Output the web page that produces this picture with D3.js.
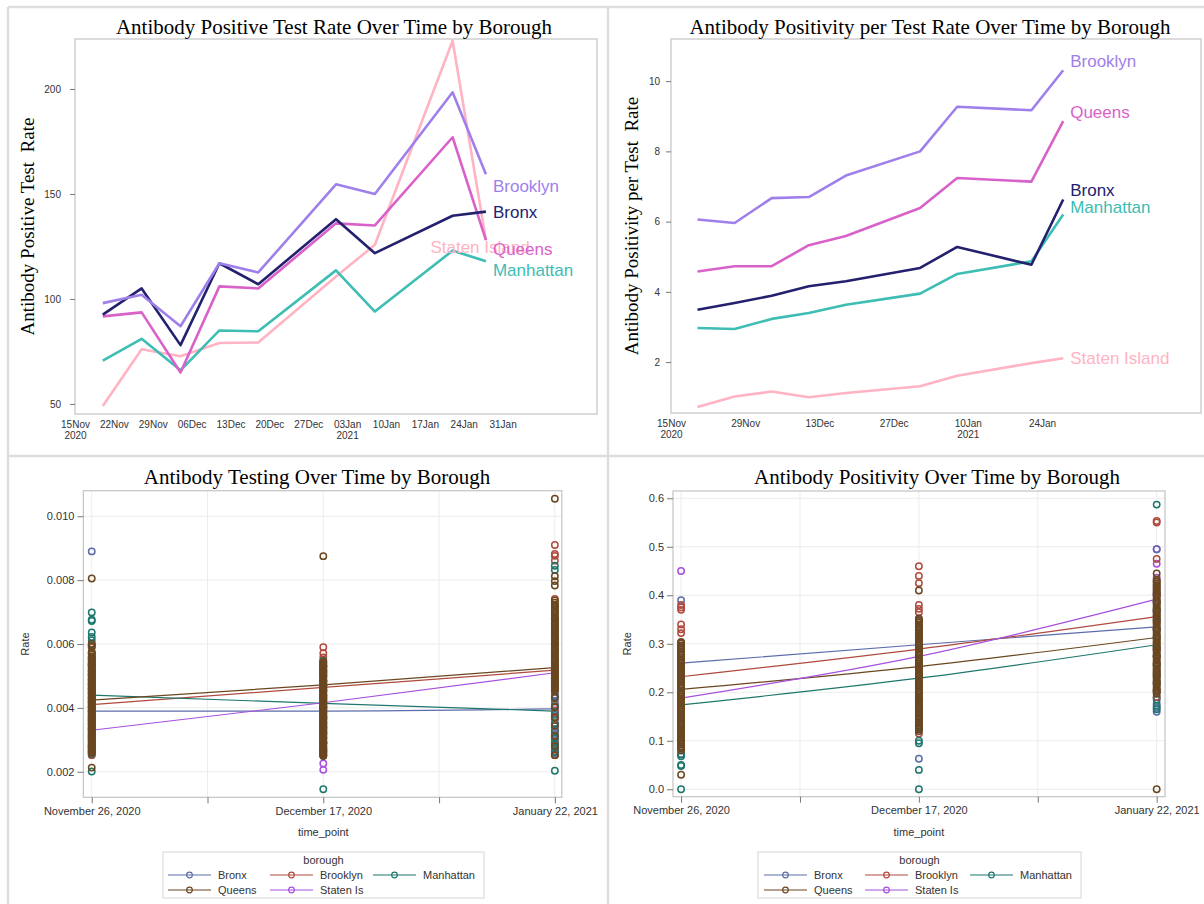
<!DOCTYPE html>
<html>
<head>
<meta charset="utf-8">
<script src="https://cdn.jsdelivr.net/npm/d3@7"></script>
<style>
body{margin:0;background:#fff}
text{font-family:"Liberation Sans",Arial,sans-serif;fill:#333}
.serif{font-family:"Liberation Serif","Times New Roman",serif;fill:#000;white-space:pre}
</style>
</head>
<body>
<svg id="chart" width="1204" height="904"></svg>
<script>
// ---------- data ----------
const boroughs = ["Bronx", "Brooklyn", "Manhattan", "Queens", "Staten Island"];
const legendNames = ["Bronx", "Brooklyn", "Manhattan", "Queens", "Staten Is"];
const weekDates = ["2020-11-20","2020-11-27","2020-12-04","2020-12-11","2020-12-18",
                   "2021-01-01","2021-01-08","2021-01-22","2021-01-28"];

// top left: positive test rate
const posRateBronx     = [92.5, 105, 78, 117, 107, 138, 121.8, 139.6, 141.6];
const posRateBrooklyn  = [98, 102, 87, 117, 112.6, 154.6, 150, 198.4, 159.4];
const posRateManhattan = [70.6, 81, 66, 85, 84.6, 113.6, 94, 123, 118];
const posRateQueens    = [91.7, 93.6, 65, 106, 105, 136, 135, 177, 128];
const posRateStaten    = [49, 76, 72.7, 79, 79.3, 110.7, 125.8, 223, 128];
const posRateTicks = [50, 100, 150, 200];
const posRateDateTicks = ["2020-11-15","2020-11-22","2020-11-29","2020-12-06","2020-12-13","2020-12-20",
                          "2020-12-27","2021-01-03","2021-01-10","2021-01-17","2021-01-24","2021-01-31"];
const posRateLabelAt = [141.4, 153.8, 113.8, 123.8, 124.8];

// top right: positivity per test rate
const perTestBronx     = [3.49, 3.68, 3.89, 4.16, 4.30, 4.68, 5.28, 4.77, 6.63];
const perTestBrooklyn  = [6.06, 5.96, 6.67, 6.70, 7.31, 8.0, 9.27, 9.17, 10.31];
const perTestManhattan = [2.97, 2.94, 3.23, 3.40, 3.63, 3.95, 4.51, 4.87, 6.2];
const perTestQueens    = [4.58, 4.73, 4.73, 5.33, 5.59, 6.39, 7.24, 7.14, 8.86];
const perTestStaten    = [0.72, 1.02, 1.16, 1.0, 1.12, 1.31, 1.61, 1.97, 2.11];
const perTestTicks = [2, 4, 6, 8, 10];
const perTestDateTicks = ["2020-11-15","2020-11-29","2020-12-13","2020-12-27","2021-01-10","2021-01-24"];
const perTestLabelAt = [6.9, 10.58, 6.42, 9.12, 2.12];

// bottom: time points
const timePoints = [1, 2, 3];
const timeLabels = ["November 26, 2020", "December 17, 2020", "January 22, 2021"];

// bottom left: testing rate per zip (units of 1e-5)
const testBronx = [
  [890, 262, 274, 288, 301, 317, 330, 346, 359, 372, 388, 401, 414, 428, 441, 457, 470, 486, 502, 519, 536, 553],
  [253, 271, 290, 306, 322, 339, 354, 371, 388, 403, 419, 436, 452, 469, 485, 502, 518, 531],
  [258, 272, 289, 303, 318, 334, 350, 367, 384, 401, 420, 441, 465, 492, 520, 551]
];
const testBrooklyn = [
  [252, 268, 281, 296, 309, 323, 338, 351, 364, 379, 392, 405, 419, 433, 446, 461, 474, 489, 503, 516, 531, 544, 558, 573, 589, 597],
  [590, 571, 558, 262, 277, 292, 308, 322, 337, 351, 366, 381, 396, 410, 425, 440, 455, 469, 484, 499, 514, 528, 543],
  [910, 882, 876, 861, 252, 264, 279, 293, 311, 328, 347, 366, 388, 410, 433, 456, 479, 503, 527, 551, 576, 601, 627, 652, 679, 702, 723, 741]
];
const testManhattan = [
  [201, 256, 279, 305, 333, 362, 391, 420, 449, 478, 507, 536, 571, 598, 612, 622, 636, 672, 676, 699],
  [145, 251, 268, 290, 318, 343, 372, 401, 430, 457, 483, 509, 532, 548],
  [203, 845, 832, 262, 275, 288, 305, 327, 351, 378, 405, 434, 462, 492, 522, 553, 584, 613, 645, 680, 716]
];
const testQueens = [
  [213, 805, 259, 266, 277, 284, 293, 302, 311, 319, 328, 336, 345, 354, 362, 371, 380, 388, 397, 406, 414, 423, 432, 440, 449, 458, 466, 475, 484, 492, 501, 510, 518, 527, 536, 544, 553, 562, 575, 592, 601,
   263, 271, 281, 289, 298, 307, 315, 324, 332, 341, 350, 358, 367, 376, 384, 393, 402, 410, 419, 428, 436, 445, 453, 462, 471, 479, 488, 497, 505, 514, 523, 531, 540, 549, 558, 568],
  [875, 249, 257, 266, 275, 284, 293, 302, 311, 320, 329, 338, 347, 356, 365, 374, 383, 392, 401, 410, 419, 428, 437, 446, 455, 464, 473, 482, 491, 500, 509, 518, 527, 536, 545,
   253, 262, 270, 280, 289, 297, 306, 316, 325, 333, 342, 351, 360, 369, 378, 387, 396, 405, 414, 423, 432, 441, 450, 459, 468, 477, 486, 495, 504, 513, 522, 531, 540],
  [1055, 812, 797, 783, 252, 281, 312, 343, 371, 402, 431, 452, 462, 472, 482, 492, 502, 512, 522, 532, 542, 552, 562, 572, 582, 592, 602, 612, 622, 632, 642, 652, 662, 672, 684, 696, 709, 722, 736,
   457, 467, 477, 487, 497, 507, 517, 527, 537, 547, 557, 567, 577, 587, 597, 607, 617, 627, 637, 647, 657, 667, 678, 690, 703, 716, 729]
];
const testStaten = [
  [253, 262, 271, 284, 312, 336, 348, 371, 402, 433, 459],
  [206, 226, 263, 289, 331, 366, 402, 438, 469],
  [264, 305, 348, 392, 437, 483, 528, 574, 620, 665]
];
const testFit = [
  [0.00390, 0.00390, 0.00397],
  [0.00410, 0.00464, 0.00518],
  [0.00440, 0.00414, 0.00390],
  [0.00424, 0.00472, 0.00526],
  [0.00330, 0.00416, 0.00510]
];
const testTicks = [0.002, 0.004, 0.006, 0.008, 0.010];

// bottom right: positivity per zip (units of 1e-3)
const posBronx = [
  [390, 72, 85, 98, 112, 126, 140, 154, 168, 182, 196, 210, 224, 238, 252, 266, 280, 294],
  [63, 132, 148, 165, 182, 199, 216, 233, 250, 267, 284, 301, 318, 335, 350],
  [495, 160, 168, 177, 190, 205, 222, 240, 258, 276, 294, 312, 330, 348, 366, 384, 402, 420]
];
const posBrooklyn = [
  [380, 375, 370, 340, 330, 322, 95, 108, 121, 134, 147, 160, 173, 186, 199, 212, 225, 238, 251, 264, 277, 290, 302],
  [460, 440, 425, 380, 372, 365, 115, 138, 153, 169, 185, 201, 217, 233, 249, 265, 281, 297, 313, 329, 345],
  [550, 553, 475, 190, 204, 218, 232, 246, 260, 274, 288, 302, 316, 330, 344, 358, 372, 386, 400, 414, 428]
];
const posManhattan = [
  [0, 50, 48, 68, 72, 86, 101, 117, 133, 149, 165, 181, 197, 213, 229, 245, 262],
  [0, 40, 95, 100, 125, 130, 146, 164, 183, 202, 221, 240, 259, 278, 297, 316, 334],
  [587, 165, 172, 185, 201, 218, 236, 255, 274, 293, 312, 331, 350, 369, 388, 407]
];
const posQueens = [
  [30, 80, 88, 96, 104, 112, 120, 128, 136, 144, 152, 160, 168, 176, 184, 192, 200, 208, 216, 224, 232, 240, 248, 256, 264, 272, 280, 288, 296, 304,
   84, 92, 100, 108, 116, 124, 132, 140, 148, 156, 164, 172, 180, 188, 196, 204, 212, 220, 228, 236, 244, 252, 260, 268, 276, 284, 292, 300],
  [410, 120, 128, 136, 144, 152, 160, 168, 176, 184, 192, 200, 208, 216, 224, 232, 240, 248, 256, 264, 272, 280, 288, 296, 304, 312, 320, 328, 336, 344, 352,
   124, 132, 140, 148, 156, 164, 172, 180, 188, 196, 204, 212, 220, 228, 236, 244, 252, 260, 268, 276, 284, 292, 300, 308, 316, 324, 332, 340, 348],
  [0, 445, 432, 197, 205, 213, 221, 229, 237, 245, 253, 261, 269, 277, 285, 293, 301, 309, 317, 325, 333, 341, 349, 357, 365, 373, 381, 389, 397, 405, 413, 421, 429,
   201, 209, 217, 225, 233, 241, 249, 257, 265, 273, 281, 289, 297, 305, 313, 321, 329, 337, 345, 353, 361, 369, 377, 385, 393, 401, 409, 417, 425]
];
const posStaten = [
  [450, 107, 139, 168, 196, 222, 250],
  [171, 214, 252, 289, 322],
  [495, 465, 288, 329, 367, 402, 436]
];
const posFit = [
  [0.260, 0.298, 0.335],
  [0.232, 0.289, 0.356],
  [0.174, 0.229, 0.298],
  [0.206, 0.253, 0.313],
  [0.188, 0.274, 0.392]
];
const posTicks = [0, 0.1, 0.2, 0.3, 0.4, 0.5, 0.6];

// ---------- styles ----------
const topColors = ["#23216e", "#9f80ea", "#3dbdb3", "#d862c9", "#ffb3c3"];
const scatterColors = ["#5c6cab", "#b04a3e", "#1e776d", "#6a4720", "#a650de"];

const svg = d3.select("#chart");
const parse = d3.timeParse("%Y-%m-%d");
const dates = weekDates.map(parse);

// panel separators
svg.append("rect").attr("width", 1204).attr("height", 904).attr("fill", "#fff");
const sep = svg.append("g").attr("stroke", "#dedede").attr("stroke-width", 2.5);
sep.append("line").attr("x1", 8).attr("x2", 8).attr("y1", 7).attr("y2", 904);
sep.append("line").attr("x1", 608).attr("x2", 608).attr("y1", 7).attr("y2", 904);
sep.append("line").attr("x1", 8).attr("x2", 1204).attr("y1", 7).attr("y2", 7);
sep.append("line").attr("x1", 8).attr("x2", 1204).attr("y1", 456).attr("y2", 456);

function styleAxis(g, size) {
  g.select(".domain").remove();
  g.selectAll(".tick line").attr("stroke", "#777");
  g.selectAll(".tick text").style("font-size", size + "px").style("fill", "#333");
}

// ---------- top line panels ----------
function linePanel(o) {
  const g = svg.append("g");
  const x = d3.scaleTime().domain(o.xDomain.map(parse)).range([o.left, o.right]);
  const y = d3.scaleLinear().domain(o.yDomain).range([o.bottom, o.top]);

  g.append("rect")
    .attr("x", o.left).attr("y", o.top)
    .attr("width", o.right - o.left).attr("height", o.bottom - o.top)
    .attr("fill", "none").attr("stroke", "#cfcfcf").attr("stroke-width", 1.5);

  const ya = g.append("g").attr("transform", `translate(${o.left},0)`)
    .call(d3.axisLeft(y).tickValues(o.yTicks).tickSize(5).tickPadding(o.pad));
  styleAxis(ya, 10);

  const tickDates = o.dateTicks.map(parse);
  const xa = g.append("g").attr("transform", `translate(0,${o.bottom})`)
    .call(d3.axisBottom(x).tickValues(tickDates).tickSize(0).tickPadding(7)
      .tickFormat(d3.timeFormat("%d%b")));
  styleAxis(xa, 10);
  xa.selectAll(".tick text").each(function (d, i) {
    const t = d3.select(this);
    const lab = d3.timeFormat("%d%b")(d);
    t.text(null);
    t.append("tspan").attr("x", 0).text(lab);
    if (i === 0 || d.getFullYear() !== tickDates[i - 1].getFullYear()) {
      t.append("tspan").attr("x", 0).attr("dy", "1.1em").text(d.getFullYear());
    }
  });

  g.append("text").attr("class", "serif")
    .attr("x", (o.left + o.right) / 2 + o.titleShift).attr("y", 34)
    .attr("text-anchor", "middle").style("font-size", "21px").text(o.title);

  g.append("text").attr("class", "serif")
    .attr("transform", `translate(${o.ylabX},${(o.top + o.bottom) / 2}) rotate(-90)`)
    .attr("text-anchor", "middle").style("font-size", "19px").text(o.ylab);

  const line = d3.line().x((d, i) => x(dates[i])).y(d => y(d));
  const order = [4, 2, 3, 0, 1];
  order.forEach(k => {
    g.append("path").datum(o.series[k])
      .attr("d", line).attr("fill", "none")
      .attr("stroke", topColors[k]).attr("stroke-width", 2.6)
      .attr("stroke-linejoin", "round");
  });
  order.forEach(k => {
    const lx = o.labelDate[k] ? x(parse(o.labelDate[k])) : x(dates[dates.length - 1]) + 7;
    g.append("text")
      .attr("x", lx).attr("y", y(o.labelAt[k])).attr("dy", "0.35em")
      .style("font-size", "17px").style("fill", topColors[k])
      .text(boroughs[k]);
  });
}

linePanel({
  left: 75, right: 597, top: 39, bottom: 414,
  xDomain: ["2020-11-15", "2021-02-17"], yDomain: [45.2, 223.8],
  yTicks: posRateTicks, dateTicks: posRateDateTicks, pad: 9,
  title: "Antibody Positive Test Rate Over Time by Borough", titleShift: -2,
  ylab: "Antibody Positive Test  Rate", ylabX: 34,
  series: [posRateBronx, posRateBrooklyn, posRateManhattan, posRateQueens, posRateStaten],
  labelAt: posRateLabelAt, labelDate: [null, null, null, null, "2021-01-18"]
});

linePanel({
  left: 671, right: 1201, top: 39, bottom: 413,
  xDomain: ["2020-11-15", "2021-02-23"], yDomain: [0.55, 11.2],
  yTicks: perTestTicks, dateTicks: perTestDateTicks, pad: 6,
  title: "Antibody Positivity per Test Rate Over Time by Borough", titleShift: -6,
  ylab: "Antibody Positivity per Test  Rate", ylabX: 638,
  series: [perTestBronx, perTestBrooklyn, perTestManhattan, perTestQueens, perTestStaten],
  labelAt: perTestLabelAt, labelDate: [null, null, null, null, null]
});

// ---------- bottom scatter panels ----------
function scatterPanel(o) {
  const g = svg.append("g");
  const x = d3.scaleLinear().domain(o.xDomain).range([o.left, o.right]);
  const y = d3.scaleLinear().domain(o.yDomain).range([o.bottom, o.top]);
  const xTicks = [1, 1.5, 2, 2.5, 3];

  const grid = g.append("g").attr("stroke", "#ececec").attr("stroke-width", 1);
  xTicks.forEach(t => grid.append("line").attr("x1", x(t)).attr("x2", x(t)).attr("y1", o.top).attr("y2", o.bottom));
  o.yTicks.forEach(t => grid.append("line").attr("x1", o.left).attr("x2", o.right).attr("y1", y(t)).attr("y2", y(t)));

  g.append("rect")
    .attr("x", o.left).attr("y", o.top)
    .attr("width", o.right - o.left).attr("height", o.bottom - o.top)
    .attr("fill", "none").attr("stroke", "#c4c4c4").attr("stroke-width", 1.2);

  const ya = g.append("g").attr("transform", `translate(${o.left},0)`)
    .call(d3.axisLeft(y).tickValues(o.yTicks).tickSize(6).tickPadding(3).tickFormat(d3.format(o.fmt)));
  styleAxis(ya, 11);

  const xa = g.append("g").attr("transform", `translate(0,${o.bottom})`)
    .call(d3.axisBottom(x).tickValues(xTicks).tickSize(6).tickPadding(4)
      .tickFormat(d => Number.isInteger(d) ? timeLabels[timePoints.indexOf(d)] : ""));
  styleAxis(xa, 11);

  g.append("text").attr("class", "serif")
    .attr("x", o.titleX).attr("y", 484)
    .attr("text-anchor", "middle").style("font-size", "21px").text(o.title);

  g.append("text")
    .attr("transform", `translate(${o.ylabX},${y(o.ylabAt)}) rotate(-90)`)
    .attr("text-anchor", "middle").style("font-size", "11px").text("Rate");

  g.append("text").attr("x", x(2)).attr("y", 836)
    .attr("text-anchor", "middle").style("font-size", "11px").text("time_point");

  // fitted lines
  const fit = d3.line().x((d, i) => x(timePoints[i])).y(d => y(d)).curve(d3.curveMonotoneX);
  o.fit.forEach((f, k) => {
    g.append("path").datum(f).attr("d", fit).attr("fill", "none")
      .attr("stroke", scatterColors[k]).attr("stroke-width", 1.2);
  });

  // zip-level points, Queens drawn last so the dense columns read brown
  [4, 0, 1, 2, 3].forEach(k => {
    o.points[k].forEach((vals, t) => {
      g.selectAll(null).data(vals).enter().append("circle")
        .attr("cx", x(timePoints[t])).attr("cy", d => y(d * o.unit))
        .attr("r", 3.2).attr("fill", "none")
        .attr("stroke", scatterColors[k]).attr("stroke-width", 1.5);
    });
  });

  // legend
  const lg = g.append("g");
  lg.append("rect").attr("x", o.legX).attr("y", 852).attr("width", o.legW).attr("height", 46)
    .attr("fill", "#fff").attr("stroke", "#d6d6d6");
  lg.append("text").attr("x", o.legX + o.legW / 2).attr("y", 864)
    .attr("text-anchor", "middle").style("font-size", "11px").text("borough");
  legendNames.forEach((nm, k) => {
    const col = k < 3 ? k : k - 3;
    const lx = o.legCols[col];
    const ly = k < 3 ? 875 : 890;
    lg.append("line").attr("x1", lx).attr("x2", lx + 43).attr("y1", ly).attr("y2", ly)
      .attr("stroke", scatterColors[k]).attr("stroke-width", 1.2);
    lg.append("circle").attr("cx", lx + 21.5).attr("cy", ly).attr("r", 2.8)
      .attr("fill", "none").attr("stroke", scatterColors[k]).attr("stroke-width", 1.2);
    lg.append("text").attr("x", lx + 50).attr("y", ly).attr("dy", "0.35em")
      .style("font-size", "11px").text(nm);
  });
}

scatterPanel({
  left: 83.4, right: 561.8, top: 490.7, bottom: 797.3,
  xDomain: [0.964, 3.03], yDomain: [0.0012, 0.0108],
  yTicks: testTicks, fmt: ".3f", unit: 1e-5,
  title: "Antibody Testing Over Time by Borough", titleX: 317,
  ylabX: 29, ylabAt: 0.006,
  fit: testFit, points: [testBronx, testBrooklyn, testManhattan, testQueens, testStaten],
  legX: 163, legW: 321, legCols: [168, 270, 373]
});

scatterPanel({
  left: 673, right: 1165, top: 491, bottom: 796.7,
  xDomain: [0.966, 3.035], yDomain: [-0.0153, 0.615],
  yTicks: posTicks, fmt: ".1f", unit: 1e-3,
  title: "Antibody Positivity Over Time by Borough", titleX: 937,
  ylabX: 631, ylabAt: 0.3,
  fit: posFit, points: [posBronx, posBrooklyn, posManhattan, posQueens, posStaten],
  legX: 758, legW: 323, legCols: [764, 865, 970]
});
</script>
</body>
</html>
